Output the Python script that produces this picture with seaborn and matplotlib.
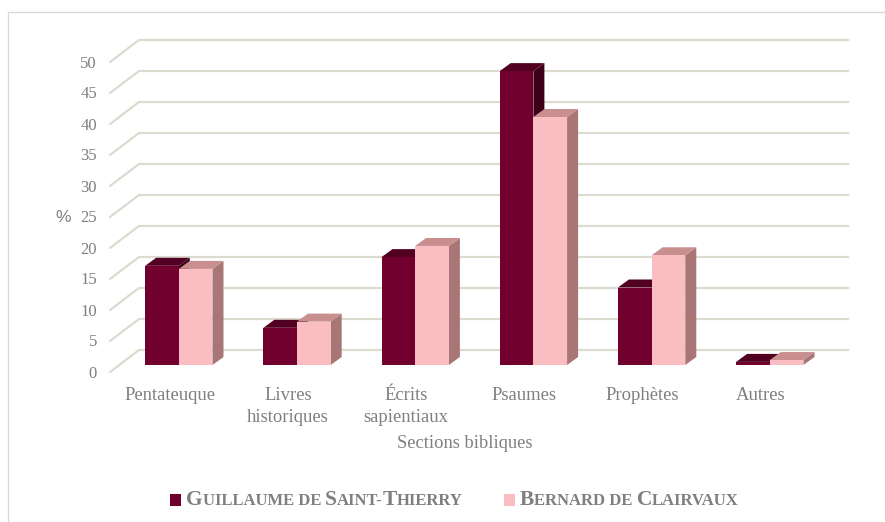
import numpy as np
import pandas as pd
import seaborn as sns
import matplotlib.pyplot as plt
from matplotlib.offsetbox import AnchoredOffsetbox, DrawingArea, HPacker, TextArea
from matplotlib.patches import Polygon, Rectangle
from matplotlib.transforms import Affine2D

categories = ["Pentateuque", "Livres\nhistoriques", "Écrits\nsapientiaux", "Psaumes", "Prophètes", "Autres"]
guillaume = [16.0, 6.0, 17.4, 47.4, 12.5, 0.5]
bernard = [15.5, 7.0, 19.2, 40.0, 17.7, 0.8]
authors = ["Guillaume de Saint-Thierry", "Bernard de Clairvaux"]
y_ticks = list(range(0, 55, 5))

# front, top, side
shades = {
    authors[0]: ("#72002F", "#520022", "#3E0019"),
    authors[1]: ("#FABDC1", "#C98F8F", "#A87676"),
}
TEXT = "#7F7F7F"
GRID = "#DDDBCF"
W, H = 885, 522
PX_X = 118.2  # px per category
PX_Y = 6.2  # px per unit


def main():
    sns.set_theme(style="white")
    plt.rcParams["font.family"] = ["Liberation Serif", "DejaVu Serif"]

    df = pd.DataFrame({
        "section": categories * 2,
        "author": [authors[0]] * 6 + [authors[1]] * 6,
        "pct": guillaume + bernard,
    })

    fig = plt.figure(figsize=(W / 100, H / 100), dpi=100)
    left, bottom = 119.7, 365
    ax = fig.add_axes([left / W, (H - bottom) / H, 6 * PX_X / W, 50 * PX_Y / H])
    ax.patch.set_alpha(0)

    sns.barplot(data=df, x="section", y="pct", hue="author", hue_order=authors,
                palette={a: shades[a][0] for a in authors}, width=0.57, gap=0,
                saturation=1, legend=False, ax=ax)
    ax.set_xlim(-0.5, 5.5)
    ax.set_ylim(0, 50)
    sns.despine(ax=ax, left=True, bottom=True)

    # floor and back wall lines, offset from the plane of the bars
    for v in y_ticks:
        ax.plot([-0.5 - 9.7 / PX_X, -0.5 + 19.3 / PX_X, 5.5 + 19.3 / PX_X],
                [v - 7 / PX_Y, v + 15 / PX_Y, v + 15 / PX_Y],
                color=GRID, lw=1.6, clip_on=False, zorder=1, solid_capstyle="round")

    # sides and tops of the bars
    dx, dy = 11 / PX_X, 8 / PX_Y
    bars = [p for p in ax.patches if p.get_height() > 0]
    bars = sorted(bars, key=lambda p: p.get_x())
    for i, bar in enumerate(bars):
        front, top, side = shades[authors[i % 2]]
        x0, x1, h = bar.get_x(), bar.get_x() + bar.get_width(), bar.get_height()
        z = 3 + i
        bar.set_zorder(z + 0.2)
        bar.set_edgecolor("none")
        ax.add_patch(Polygon([(x1, 0), (x1 + dx, dy), (x1 + dx, h + dy), (x1, h)],
                             fc=side, ec="none", clip_on=False, zorder=z))
        ax.add_patch(Polygon([(x0, h), (x0 + dx, h + dy), (x1 + dx, h + dy), (x1, h)],
                             fc=top, ec="none", clip_on=False, zorder=z + 0.1))

    ax.set_yticks(y_ticks)
    ax.tick_params(length=0)
    ax.tick_params(axis="y", pad=16.3, labelsize=12, labelcolor=TEXT)
    ax.tick_params(axis="x", pad=15.5, labelsize=13.4, labelcolor=TEXT)
    for lab in ax.get_yticklabels():
        lab.set_transform(lab.get_transform() + Affine2D().translate(0, -6.5))
    for lab in ax.get_xticklabels():
        lab.set_transform(lab.get_transform() + Affine2D().translate(-9, 0))
        lab.set_linespacing(1.45)
    ax.set_xlabel("")
    ax.set_ylabel("")

    fig.text(465 / W, 1 - 443.5 / H, "Sections bibliques", color=TEXT, fontsize=13.3,
             ha="center", va="center")
    fig.text(63.5 / W, 1 - 218 / H, "%", color=TEXT, fontsize=12.5, family="Liberation Sans",
             ha="center", va="center")

    # legend in small capitals
    def small_caps(parts):
        boxes = []
        for text, big in parts:
            boxes.append(TextArea(text, textprops=dict(color=TEXT, fontweight="bold",
                                                       fontsize=15.4 if big else 12)))
        return HPacker(children=boxes, pad=0, sep=0, align="baseline")

    def swatch(color):
        da = DrawingArea(8, 8, 0, 0)
        da.add_artist(Rectangle((0, 0), 8, 8, fc=color, ec="none"))
        return da

    entries = [
        (shades[authors[0]][0], [("G", 1), ("UILLAUME DE ", 0), ("S", 1), ("AINT-", 0), ("T", 1), ("HIERRY", 0)]),
        (shades[authors[1]][0], [("B", 1), ("ERNARD DE ", 0), ("C", 1), ("LAIRVAUX", 0)]),
    ]
    for (color, parts), x0 in zip(entries, [170, 504]):
        row = HPacker(children=[swatch(color), small_caps(parts)], pad=0, sep=3.5, align="center")
        box = AnchoredOffsetbox(loc="center left", child=row, pad=0, borderpad=0, frameon=False,
                                bbox_to_anchor=(x0 / W, 1 - 500 / H), bbox_transform=fig.transFigure)
        ax.add_artist(box)

    # chart frame
    fig.add_artist(Rectangle((8 / W, -0.01), (W + 20) / W, 1 - 12 / H + 0.01, transform=fig.transFigure,
                             fc="none", ec="#D9D9D9", lw=1))

    fig.savefig("out.png", dpi=100)


if __name__ == "__main__":
    main()
